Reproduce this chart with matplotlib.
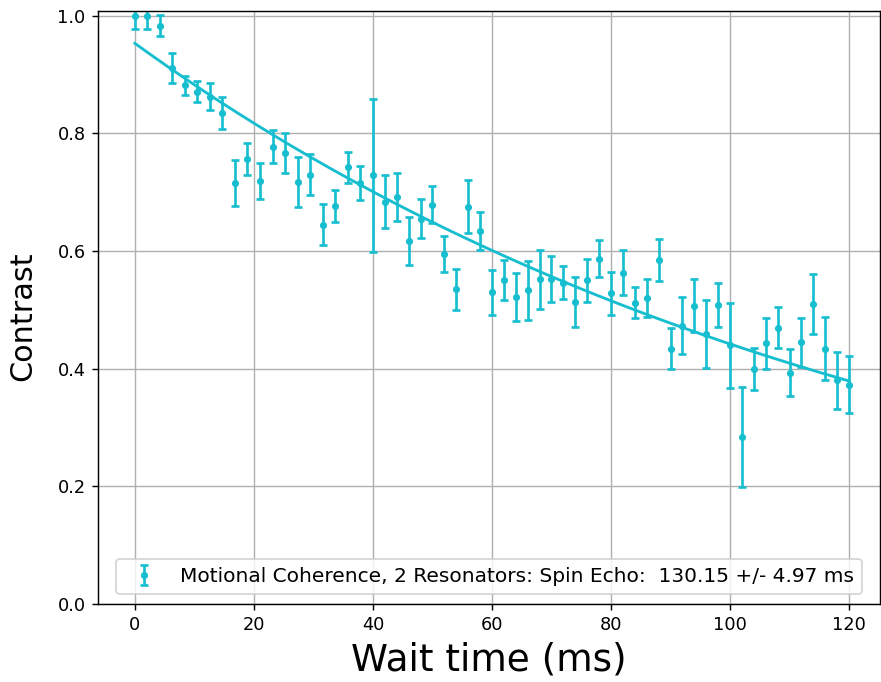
import numpy as np
from matplotlib import pyplot as plt

# wait times (ms): first 20 points span 0-40, then 2 ms steps up to 120
wait_time = [0, 2.1, 4.2, 6.3, 8.4, 10.5, 12.6, 14.7, 16.8, 18.9,
             21.1, 23.2, 25.3, 27.4, 29.5, 31.6, 33.7, 35.8, 37.9, 40,
             42, 44, 46, 48, 50, 52, 54, 56, 58, 60,
             62, 64, 66, 68, 70, 72, 74, 76, 78, 80,
             82, 84, 86, 88, 90, 92, 94, 96, 98, 100,
             102, 104, 106, 108, 110, 112, 114, 116, 118, 120]

contrast = [1.000, 1.000, 0.983, 0.911, 0.882, 0.871, 0.862, 0.834, 0.715, 0.757,
            0.719, 0.777, 0.767, 0.717, 0.730, 0.645, 0.677, 0.742, 0.716, 0.729,
            0.684, 0.692, 0.617, 0.655, 0.679, 0.595, 0.535, 0.675, 0.634, 0.530,
            0.551, 0.522, 0.533, 0.552, 0.552, 0.546, 0.513, 0.550, 0.587, 0.528,
            0.563, 0.512, 0.520, 0.585, 0.434, 0.473, 0.507, 0.459, 0.508, 0.440,
            0.284, 0.400, 0.443, 0.470, 0.393, 0.445, 0.510, 0.434, 0.380, 0.373]

contrast_err = [0.023, 0.023, 0.018, 0.025, 0.016, 0.018, 0.023, 0.027, 0.039, 0.027,
                0.031, 0.028, 0.034, 0.042, 0.035, 0.035, 0.027, 0.026, 0.029, 0.130,
                0.045, 0.041, 0.040, 0.033, 0.032, 0.031, 0.035, 0.045, 0.033, 0.038,
                0.034, 0.041, 0.050, 0.050, 0.039, 0.028, 0.042, 0.037, 0.031, 0.036,
                0.038, 0.026, 0.032, 0.036, 0.035, 0.048, 0.045, 0.057, 0.037, 0.072,
                0.085, 0.036, 0.043, 0.035, 0.040, 0.042, 0.051, 0.054, 0.049, 0.048]

# fitted exponential decay parameters
fit_amp = 0.953
fit_tau = 130.15
fit_tau_err = 4.97

color = '#17becf'

fig = plt.figure(figsize=(881/128, 682/128), dpi=128)
ax = fig.add_axes([98/881, 78/682, 782/881, 593/682])

label = f'Motional Coherence, 2 Resonators: Spin Echo:  {fit_tau:.2f} +/- {fit_tau_err:.2f} ms'
ax.errorbar(wait_time, contrast, yerr=contrast_err, fmt='.', color=color,
            capsize=2, elinewidth=1.5, capthick=1.5, label=label)

t_fit = np.linspace(0, 120, 300)
ax.plot(t_fit, fit_amp*np.exp(-t_fit/fit_tau), color=color, linewidth=1.6)

ax.set_xlim(-6.2, 125.2)
ax.set_ylim(0, 1.008)
ax.set_xticks([0, 20, 40, 60, 80, 100, 120])
ax.set_yticks([0.0, 0.2, 0.4, 0.6, 0.8, 1.0])
ax.grid(True)
ax.set_xlabel('Wait time (ms)', fontsize=21)
ax.set_ylabel('Contrast', fontsize=17)
ax.yaxis.set_label_coords(-0.078, 0.485)
ax.legend(loc='lower center', fontsize=11.3)

plt.savefig('out.png', dpi=128)
